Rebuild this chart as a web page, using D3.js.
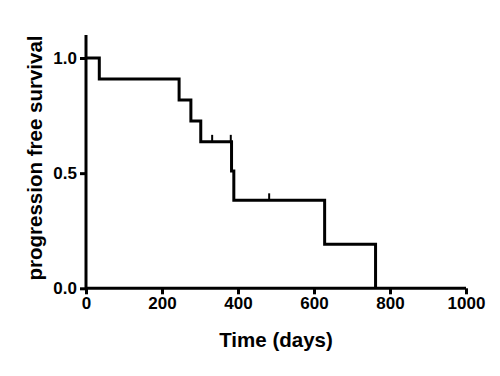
<!DOCTYPE html>
<html><head><meta charset="utf-8">
<script src="https://cdn.jsdelivr.net/npm/d3@7"></script>
<style>body{margin:0;background:#fff}svg{display:block}</style>
</head><body>
<script>
// Kaplan-Meier step points: time (days) and survival after that time
const stepTimes = [0, 35, 245, 276, 302, 383, 389, 628, 762];
const stepSurv  = [1.0, 0.909, 0.818, 0.727, 0.636, 0.509, 0.382, 0.191, 0.0];
const censorTimes = [332, 381, 482];
const censorSurv  = [0.636, 0.636, 0.382];
const xTicks = [0, 200, 400, 600, 800, 1000];
const yTicks = [0.0, 0.5, 1.0];

const W = 500, H = 376;
const svg = d3.select("body").append("svg").attr("width", W).attr("height", H);
const x = d3.scaleLinear().domain([0, 1000]).range([86, 466]);
const y = d3.scaleLinear().domain([0, 1.1]).range([288.3, 35]);
const font = "'Liberation Sans', Arial, sans-serif";

const xa = svg.append("g").attr("transform", `translate(0,${y(0)})`)
  .call(d3.axisBottom(x).tickValues(xTicks).tickSize(6).tickPadding(3).tickFormat(d3.format("d")));
const ya = svg.append("g").attr("transform", `translate(${x(0)},0)`)
  .call(d3.axisLeft(y).tickValues(yTicks).tickSize(6).tickPadding(3).tickFormat(d3.format(".1f")));
[xa, ya].forEach(a => {
  a.select(".domain").attr("stroke", "#000").attr("stroke-width", 3);
  a.selectAll(".tick line").attr("stroke", "#000").attr("stroke-width", 3);
  a.selectAll(".tick text").attr("fill", "#000").style("font-family", font)
    .style("font-size", "17px").style("font-weight", "bold");
});
// remove domain end caps
xa.select(".domain").attr("d", `M${x(0)},0H${x(1000)}`);
ya.select(".domain").attr("d", `M0,${y(0)}V${y(1.1)}`);

const pts = stepTimes.map((t, i) => [t, stepSurv[i]]);
const line = d3.line().x(d => x(d[0])).y(d => y(d[1])).curve(d3.curveStepAfter);
svg.append("path").datum(pts).attr("d", line)
  .attr("fill", "none").attr("stroke", "#000").attr("stroke-width", 3);

svg.selectAll(".cens").data(censorTimes).enter().append("line")
  .attr("x1", d => x(d)).attr("x2", d => x(d))
  .attr("y1", (d, i) => y(censorSurv[i]))
  .attr("y2", (d, i) => y(censorSurv[i]) - 7)
  .attr("stroke", "#000").attr("stroke-width", 2);

svg.append("text").attr("x", 276).attr("y", 347).attr("text-anchor", "middle")
  .style("font-family", font).style("font-size", "20.5px").style("font-weight", "bold")
  .text("Time (days)");
svg.append("text").attr("transform", "translate(42,158) rotate(-90)").attr("text-anchor", "middle")
  .style("font-family", font).style("font-size", "20.5px").style("font-weight", "bold")
  .text("progression free survival");
</script>
</body></html>
